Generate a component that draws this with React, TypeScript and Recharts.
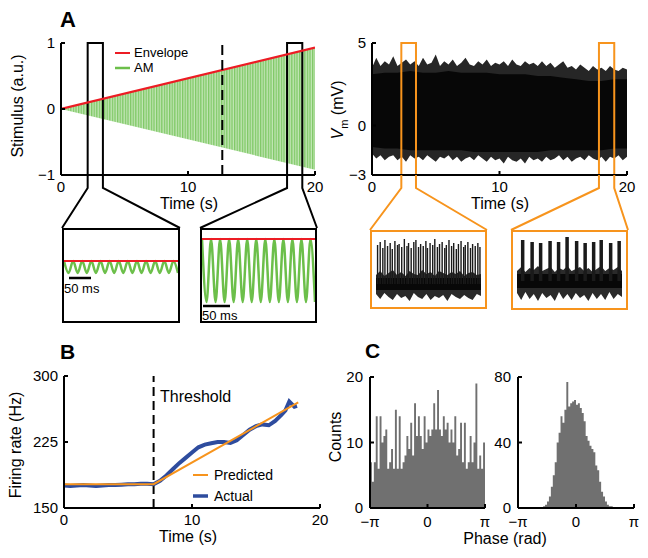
import React from 'react';
import {
  ComposedChart, LineChart, AreaChart, Line, Area, Bar, XAxis, YAxis,
  ReferenceLine, ReferenceArea, Legend,
} from 'recharts';

const W = 648;
const H = 558;
const YW = 50;
const XH = 30;
const FONT = '"Liberation Sans", Arial, Helvetica, sans-serif';

const RED = '#ec1c24';
const GREEN = '#6cbf4a';
const ORANGE = '#f7941d';
const BLUE = '#2e4c9e';
const GREY = '#707070';

// ---- A: stimulus ----
const stimTimes = [0, 20];
const envelope = [0, 0.93];
const amHigh = [0, 0.92];
const amLow = [0, -0.92];
const stimThreshold = 12.7;
const stimWindows = [[2.1, 3.3], [17.8, 19.0]];
const stimLegend = [
  { name: 'Envelope', color: RED },
  { name: 'AM', color: GREEN },
];

// zoomed stimulus insets
const waveEarly = [0.32, 0.055, 0.32, 0.055, 0.32, 0.055, 0.32, 0.055, 0.32, 0.055, 0.32, 0.055, 0.32,
  0.055, 0.32, 0.055, 0.32, 0.055, 0.32, 0.055, 0.32, 0.055, 0.32, 0.055, 0.32, 0.055];
const waveLate = [0.8, -0.58, 0.8, -0.58, 0.8, -0.58, 0.8, -0.58, 0.8, -0.58, 0.8, -0.58, 0.8,
  -0.58, 0.8, -0.58, 0.8, -0.58, 0.8, -0.58, 0.8, -0.58, 0.8, -0.58, 0.8, -0.58];
const envEarly = 0.32;
const envLate = 0.8;

// ---- A: membrane potential ----
const vmHi = [
  3.5, 4.1, 3.6, 3.9, 3.7, 4.2, 3.6, 3.8, 4.0, 3.7,
  3.9, 3.6, 4.1, 3.7, 3.8, 4.3, 3.6, 3.9, 3.7, 4.0,
  3.6, 3.8, 4.1, 3.7, 3.6, 3.9, 3.7, 4.0, 3.6, 3.8,
  3.7, 3.9, 3.6, 4.0, 3.7, 3.6, 3.9, 3.7, 3.8, 3.6,
  3.9, 3.6, 3.8, 3.5, 3.7, 3.9, 3.5, 3.6, 3.4, 3.7,
  3.5, 3.3, 3.6, 3.4, 3.5, 3.3, 3.6, 3.4, 3.3, 3.5, 3.4];
const vmLo = [
  -1.7, -2.0, -1.8, -2.1, -1.9, -1.8, -2.1, -1.9, -2.2, -1.8,
  -2.0, -1.9, -2.1, -1.8, -2.0, -2.2, -1.9, -2.0, -1.8, -2.1,
  -1.9, -2.2, -2.0, -1.9, -2.1, -1.8, -2.0, -2.2, -1.9, -2.1,
  -2.0, -2.3, -1.9, -2.1, -2.2, -2.0, -2.3, -1.9, -2.1, -2.0,
  -2.2, -1.9, -2.1, -2.0, -1.8, -2.1, -1.9, -2.2, -2.0, -1.9,
  -2.1, -1.8, -2.0, -2.1, -1.9, -2.2, -1.9, -2.0, -1.8, -2.1, -1.9];
const vmCoreHi = [3.1, 3.2, 3.2, 3.3, 3.2, 3.2, 3.3, 3.2, 3.2, 3.2, 3.1, 3.1, 3.1, 3.0, 3.0, 2.9, 2.8, 2.7, 2.7, 2.8, 2.8];
const vmCoreLo = [-1.3, -1.4, -1.4, -1.5, -1.5, -1.5, -1.5, -1.5, -1.6, -1.6, -1.6, -1.6, -1.6, -1.6, -1.5, -1.5, -1.5, -1.5, -1.5, -1.4, -1.4];
const vmWindows = [[2.3, 3.45], [17.8, 19.0]];

// zoomed spike insets
const noisePos = [0, 4, 8, 12, 16, 20, 24, 28, 32, 36, 40, 44, 48, 52, 56, 60, 64, 68, 72, 76, 80, 84, 88, 92, 96, 100];
const noiseEarlyHi = [0.9, 1.3, 0.8, 1.1, 1.4, 0.9, 1.2, 0.8, 1.3, 1.0, 0.9, 1.4, 1.0, 1.2, 0.8, 1.3, 1.1, 0.9, 1.2, 1.0, 1.3, 0.8, 1.1, 1.2, 0.9, 1.0];
const noiseEarlyLo = [-1.0, -1.5, -0.9, -1.3, -1.6, -1.0, -1.4, -1.2, -1.7, -0.9, -1.3, -1.5, -1.0, -1.6, -1.2, -1.4, -1.1, -1.7, -1.0, -1.3, -1.5, -1.1, -1.4, -1.6, -1.0, -1.2];
const noiseLateHi = [1.0, 1.4, 0.9, 1.3, 1.1, 1.5, 1.0, 1.2, 1.4, 0.9, 1.3, 1.1, 1.5, 1.0, 1.2, 1.4, 1.0, 1.3, 0.9, 1.2, 1.5, 1.0, 1.3, 1.1, 1.4, 1.0];
const noiseLateLo = [-1.2, -1.9, -1.1, -1.8, -1.3, -2.0, -1.2, -1.7, -1.4, -2.0, -1.1, -1.8, -1.3, -1.9, -1.2, -1.7, -1.4, -2.0, -1.2, -1.8, -1.3, -1.9, -1.1, -1.8, -1.3, -1.6];
const spikesEarlyPos = [1.5, 4, 6.5, 8.5, 11, 13.5, 15.5, 18, 20.5, 22, 24.5, 27, 29.5, 31, 33.5, 36, 38, 40.5, 42.5, 45, 47.5, 49,
  51.5, 54, 56, 58.5, 60.5, 63, 65.5, 67, 69.5, 72, 74, 76.5, 78.5, 81, 83.5, 85, 87.5, 90, 92, 94.5, 97, 99];
const spikesEarlyPeak = [3.9, 4.2, 3.6, 4.4, 3.8, 4.1, 3.5, 4.3, 3.9, 4.0, 3.7, 4.5, 3.8, 4.1, 3.6, 4.2, 4.4, 3.7, 4.0, 3.8, 4.3, 3.6,
  4.1, 3.9, 4.5, 3.7, 4.0, 4.2, 3.6, 3.9, 4.4, 3.8, 4.1, 3.5, 4.0, 4.3, 3.7, 3.9, 4.2, 3.6, 4.0, 3.8, 4.1, 3.7];
const burstsLatePos = [5.4, 14.4, 22.5, 31.5, 39.6, 47.7, 56.8, 64.9, 73, 80.2, 89.2, 97.3];
const burstsLatePeak = [4.1, 3.9, 3.8, 4.0, 3.9, 4.4, 4.0, 3.8, 3.9, 4.1, 3.8, 4.0];

// ---- B: firing rate ----
const rateTimes = [0, 0.5, 1, 1.5, 2, 2.5, 3, 3.5, 4, 4.5, 5, 5.5, 6, 6.5, 7, 7.5, 8, 8.5, 9, 9.5,
  10, 10.5, 11, 11.5, 12, 12.5, 13, 13.5, 14, 14.5, 15, 15.5, 16, 16.5, 17, 17.3, 17.6, 17.8, 18, 18.2];
const rateActual = [175.5, 175, 175.5, 176, 175.5, 175, 175.5, 176, 176, 176.5, 177, 177, 177.5, 177.5, 177, 181, 187, 194, 201, 207,
  213, 219, 222, 223.5, 225, 225, 224, 227, 233, 239, 243, 245, 244, 249, 256, 261, 271, 268, 265, 266];
const predTimes = [0, 7, 18.3];
const predRate = [177, 177, 270];
const rateThreshold = 7;
const rateLegend = [
  { name: 'Predicted', color: ORANGE },
  { name: 'Actual', color: BLUE },
];

// ---- C: phase histograms ----
const phaseWeak = [7, 4, 7, 14, 6, 14, 10, 11, 12, 6, 7, 9, 6, 15, 6, 14, 6, 7, 8, 11,
  9, 13, 8, 16, 11, 14, 11, 9, 14, 10, 12, 11, 12, 16, 12, 18, 12, 11, 14, 12,
  13, 10, 12, 10, 14, 8, 9, 13, 7, 13, 6, 7, 11, 7, 10, 19, 6, 8, 6, 10];
const phaseStrong = [0, 0, 0, 0, 0, 0, 0, 0, 0, 0, 0, 0, 0, 1, 2, 4, 7, 13, 20, 28,
  40, 46, 56, 52, 60, 77, 62, 64, 65, 66, 63, 64, 61, 58, 53, 44, 41, 38, 36, 34,
  26, 23, 16, 10, 7, 4, 2, 1, 1, 0, 0, 0, 0, 0, 0, 0, 0, 0, 0, 0];

// ---- layout ----
type Box = [number, number, number, number];
const boxStim: Box = [61, 43, 315, 175];
const boxVm: Box = [372, 43, 627, 175];
const boxRate: Box = [64, 376, 320, 508];
const boxPhaseL: Box = [370, 377, 485, 508];
const boxPhaseR: Box = [518, 377, 634, 508];
const stimInsets: Box[] = [[62, 228, 180, 323], [200, 228, 317, 323]];
const vmInsets: Box[] = [[370, 230, 487, 309], [511, 230, 628, 310]];

const marginFor = (b: Box) => ({ top: b[1], left: b[0] - YW, right: W - b[2], bottom: H - b[3] - XH });
const toPx = (b: Box, d: number[], v: number) => b[0] + ((v - d[0]) / (d[1] - d[0])) * (b[2] - b[0]);
const minus = (v: number) => (v < 0 ? '\u2212' + Math.abs(v) : String(v));
const piFmt = (v: number) => (v < -1 ? '\u2212\u03c0' : v > 1 ? '\u03c0' : '0');

const axisStroke = { stroke: '#000', strokeWidth: 2 };
const tickFont = { fill: '#000', fontSize: 15 };

function xAxis(key: string, domain: number[], ticks: number[], fmt?: (v: number) => string, margin = 10) {
  return (
    <XAxis type="number" dataKey={key} domain={domain} ticks={ticks} interval={0} allowDataOverflow
      axisLine={axisStroke} tickLine={axisStroke} tickSize={-4} tickMargin={margin} tick={tickFont}
      height={XH} tickFormatter={fmt} />
  );
}
function yAxis(domain: number[], ticks: number[], fmt?: (v: number) => string, margin = 10) {
  return (
    <YAxis type="number" domain={domain} ticks={ticks} interval={0} allowDataOverflow
      axisLine={axisStroke} tickLine={axisStroke} tickSize={-4} tickMargin={margin} tick={tickFont}
      width={YW} tickFormatter={fmt} />
  );
}

// bar drawn with a fixed pixel width, centred on its data position
const fixedBar = (w: number, fill: string) => (props: any) => {
  const { x, y, width, height } = props;
  if (!height || height <= 0) return <g />;
  return <rect x={x + width / 2 - w / 2} y={y} width={w} height={height} fill={fill} />;
};

// histogram outline rows: one row per bin edge, last bin repeated at the right edge
const histRows = (counts: number[]) => {
  const step = (2 * Math.PI) / counts.length;
  return [...counts, counts[counts.length - 1]].map((c, i) => ({ ph: -Math.PI + i * step, c }));
};

function LegendBox({ items, rowH, fontSize, lineLen, gap, widths }: any) {
  return (
    <div style={{ fontFamily: FONT, fontSize, color: '#000' }}>
      {items.map((it: any, i: number) => (
        <div key={it.name} style={{ display: 'flex', alignItems: 'center', height: rowH }}>
          <svg width={lineLen} height={6} style={{ marginRight: gap }}>
            <line x1={0} x2={lineLen} y1={3} y2={3} stroke={it.color} strokeWidth={widths[i]} />
          </svg>
          <span>{it.name}</span>
        </div>
      ))}
    </div>
  );
}

function Txt({ x, y, size = 16, rotate = false, center = true, bold = false, children }: any) {
  const tx = center ? '-50%' : '0';
  return (
    <div style={{
      position: 'absolute', left: x, top: y, fontSize: size, lineHeight: 1, whiteSpace: 'nowrap',
      fontWeight: bold ? 'bold' : 'normal', color: '#000',
      transform: `translate(${tx}, -50%)${rotate ? ' rotate(-90deg)' : ''}`,
    }}>{children}</div>
  );
}

function WaveInset({ box, wave, level }: { box: Box; wave: number[]; level: number }) {
  const rows = wave.map((y, i) => ({ i, y, env: level }));
  return (
    <div style={{ position: 'absolute', left: box[0], top: box[1], width: box[2] - box[0], height: box[3] - box[1], border: '2px solid #000', boxSizing: 'border-box' }}>
      <LineChart width={box[2] - box[0] - 4} height={box[3] - box[1] - 4} data={rows} margin={{ top: 0, right: 0, bottom: 0, left: 0 }}>
        <XAxis type="number" dataKey="i" domain={[0, wave.length - 1]} hide />
        <YAxis type="number" domain={[-1, 1]} hide />
        <Line type="monotone" dataKey="y" stroke={GREEN} strokeWidth={2.5} dot={false} isAnimationActive={false} />
        <Line type="linear" dataKey="env" stroke={RED} strokeWidth={2} dot={false} isAnimationActive={false} />
      </LineChart>
    </div>
  );
}

function SpikeInset({ box, domain, hi, lo, core, pos, peak, barW }: any) {
  const spikes = pos.map((p: number, i: number) => ({ p, s: [0, peak[i]] }));
  const fringe = noisePos.map((p, i) => ({ p, r: [lo[i], hi[i]] }));
  const inner = [{ p: 0, r: [-core, core] }, { p: 100, r: [-core, core] }];
  return (
    <div style={{ position: 'absolute', left: box[0], top: box[1], width: box[2] - box[0], height: box[3] - box[1], border: `2px solid ${ORANGE}`, boxSizing: 'border-box' }}>
      <ComposedChart width={box[2] - box[0] - 4} height={box[3] - box[1] - 4} data={spikes} margin={{ top: 0, right: 4, bottom: 0, left: 4 }}>
        <XAxis type="number" dataKey="p" domain={[0, 100]} hide />
        <YAxis type="number" domain={domain} hide />
        <Area data={fringe} dataKey="r" type="linear" fill="#2a2a2a" fillOpacity={1} stroke="none" isAnimationActive={false} />
        <Area data={inner} dataKey="r" type="linear" fill="#080808" fillOpacity={1} stroke="none" isAnimationActive={false} />
        <Bar dataKey="s" fill="#1a1a1a" shape={fixedBar(barW, '#1a1a1a')} isAnimationActive={false} />
      </ComposedChart>
    </div>
  );
}

export default function App() {
  const stimRows = stimTimes.map((t, i) => ({ t, env: envelope[i], am: [amLow[i], amHigh[i]] }));
  const vmRows = vmHi.map((h, i) => ({ t: (i * 20) / (vmHi.length - 1), r: [vmLo[i], h] }));
  const vmCoreRows = vmCoreHi.map((h, i) => ({ t: i, r: [vmCoreLo[i], h] }));
  const actualRows = rateTimes.map((t, i) => ({ t, rate: rateActual[i] }));
  const predRows = predTimes.map((t, i) => ({ t, rate: predRate[i] }));
  const weakRows = histRows(phaseWeak);
  const strongRows = histRows(phaseStrong);
  const piDomain = [-Math.PI, Math.PI];
  const piTicks = [-Math.PI, 0, Math.PI];

  const connectors = (b: Box, d: number[], wins: number[][], insets: Box[]) =>
    wins.flatMap(([a, c], k) => {
      const xa = toPx(b, d, a);
      const xc = toPx(b, d, c);
      const ins = insets[k];
      return [
        `${xa},${b[3]} ${xa},${b[3] + 13} ${ins[0]},${ins[1]}`,
        `${xc},${b[3]} ${xc},${b[3] + 13} ${ins[2]},${ins[1]}`,
      ];
    });

  return (
    <div style={{ position: 'absolute', left: 0, top: 0, width: W, height: H, background: '#fff', fontFamily: FONT, overflow: 'hidden' }}>
      {/* A: stimulus */}
      <div style={{ position: 'absolute', left: 0, top: 0 }}>
        <ComposedChart width={W} height={H} data={stimRows} margin={marginFor(boxStim)}>
          <defs>
            <pattern id="amStripes" width="2.6" height="4" patternUnits="userSpaceOnUse">
              <rect width="2.6" height="4" fill="#c2e6b5" />
              <rect width="1.3" height="4" fill="#7fc866" />
            </pattern>
          </defs>
          {xAxis('t', [0, 20], [0, 10, 20])}
          {yAxis([-1, 1], [-1, 0, 1], minus)}
          <Area type="linear" dataKey="am" fill="url(#amStripes)" fillOpacity={1} stroke="none" isAnimationActive={false} />
          <Line type="linear" dataKey="env" stroke={RED} strokeWidth={2.2} dot={false} isAnimationActive={false} />
          <ReferenceLine x={stimThreshold} stroke="#000" strokeWidth={2} strokeDasharray="10 5" />
          {stimWindows.map(([a, c]) => (
            <ReferenceArea key={a} x1={a} x2={c} y1={-1} y2={1} fill="none" fillOpacity={0} stroke="#000" strokeWidth={2} />
          ))}
          <Legend layout="vertical" align="center" verticalAlign="middle"
            wrapperStyle={{ left: 115, top: 45, width: 'auto', height: 'auto' }}
            content={() => <LegendBox items={stimLegend} rowH={15} fontSize={13} lineLen={15} gap={4} widths={[2, 2.5]} />} />
        </ComposedChart>
      </div>

      {/* A: membrane potential */}
      <div style={{ position: 'absolute', left: 0, top: 0 }}>
        <ComposedChart width={W} height={H} margin={marginFor(boxVm)}>
          {xAxis('t', [0, 20], [0, 10, 20])}
          {yAxis([-3, 5], [-3, 0, 5], minus)}
          <Area data={vmRows} dataKey="r" type="linear" fill="#262626" fillOpacity={1} stroke="none" isAnimationActive={false} />
          <Area data={vmCoreRows} dataKey="r" type="linear" fill="#070707" fillOpacity={1} stroke="none" isAnimationActive={false} />
          {vmWindows.map(([a, c]) => (
            <ReferenceArea key={a} x1={a} x2={c} y1={-3} y2={5} fill="none" fillOpacity={0} stroke={ORANGE} strokeWidth={2} />
          ))}
        </ComposedChart>
      </div>

      {/* B: firing rate */}
      <div style={{ position: 'absolute', left: 0, top: 0 }}>
        <ComposedChart width={W} height={H} margin={marginFor(boxRate)}>
          {xAxis('t', [0, 20], [0, 10, 20])}
          {yAxis([150, 300], [150, 225, 300])}
          <ReferenceLine x={rateThreshold} stroke="#000" strokeWidth={2} strokeDasharray="9 5" />
          <Line data={actualRows} dataKey="rate" type="linear" stroke={BLUE} strokeWidth={4} dot={false} isAnimationActive={false} />
          <Line data={predRows} dataKey="rate" type="linear" stroke={ORANGE} strokeWidth={2} dot={false} isAnimationActive={false} />
          <Legend layout="vertical" align="center" verticalAlign="middle"
            wrapperStyle={{ left: 193, top: 464, width: 'auto', height: 'auto' }}
            content={() => <LegendBox items={rateLegend} rowH={21} fontSize={14} lineLen={15} gap={6} widths={[2, 3.5]} />} />
        </ComposedChart>
      </div>

      {/* C: phase histograms */}
      <div style={{ position: 'absolute', left: 0, top: 0 }}>
        <AreaChart width={W} height={H} data={weakRows} margin={marginFor(boxPhaseL)}>
          {xAxis('ph', piDomain, piTicks, piFmt, 12)}
          {yAxis([0, 20], [0, 10, 20], undefined, 11)}
          <Area dataKey="c" type="stepAfter" fill={GREY} fillOpacity={1} stroke="none" isAnimationActive={false} />
        </AreaChart>
      </div>
      <div style={{ position: 'absolute', left: 0, top: 0 }}>
        <AreaChart width={W} height={H} data={strongRows} margin={marginFor(boxPhaseR)}>
          {xAxis('ph', piDomain, piTicks, piFmt, 12)}
          {yAxis([0, 80], [0, 40, 80], undefined, 11)}
          <Area dataKey="c" type="stepAfter" fill={GREY} fillOpacity={1} stroke="none" isAnimationActive={false} />
        </AreaChart>
      </div>

      {/* insets */}
      <WaveInset box={stimInsets[0]} wave={waveEarly} level={envEarly} />
      <WaveInset box={stimInsets[1]} wave={waveLate} level={envLate} />
      <SpikeInset box={vmInsets[0]} domain={[-2.3, 5.2]} hi={noiseEarlyHi} lo={noiseEarlyLo} core={0.6}
        pos={spikesEarlyPos} peak={spikesEarlyPeak} barW={1.4} />
      <SpikeInset box={vmInsets[1]} domain={[-2.7, 4.9]} hi={noiseLateHi} lo={noiseLateLo} core={0.7}
        pos={burstsLatePos} peak={burstsLatePeak} barW={3.5} />

      {/* zoom connectors and scale bars */}
      <svg width={W} height={H} style={{ position: 'absolute', left: 0, top: 0, pointerEvents: 'none' }}>
        {connectors(boxStim, [0, 20], stimWindows, stimInsets).map((p) => (
          <polyline key={p} points={p} fill="none" stroke="#000" strokeWidth={2} />
        ))}
        {connectors(boxVm, [0, 20], vmWindows, vmInsets).map((p) => (
          <polyline key={p} points={p} fill="none" stroke={ORANGE} strokeWidth={2} />
        ))}
        <line x1={69} x2={91} y1={278} y2={278} stroke="#000" strokeWidth={2.5} />
        <line x1={203} x2={230} y1={306} y2={306} stroke="#000" strokeWidth={2.5} />
      </svg>

      {/* text */}
      <Txt x={60} y={20} size={22} bold center={false}>A</Txt>
      <Txt x={60} y={351} size={21} bold center={false}>B</Txt>
      <Txt x={365} y={350} size={21} bold center={false}>C</Txt>
      <Txt x={18} y={106} rotate>Stimulus (a.u.)</Txt>
      <Txt x={189} y={204}>Time (s)</Txt>
      <Txt x={340} y={110} rotate><i>V</i><sub style={{ fontSize: 11 }}>m</sub> (mV)</Txt>
      <Txt x={500} y={204}>Time (s)</Txt>
      <Txt x={64} y={288} size={13} center={false}>50 ms</Txt>
      <Txt x={202} y={315} size={13} center={false}>50 ms</Txt>
      <Txt x={16} y={445} rotate>Firing rate (Hz)</Txt>
      <Txt x={188} y={537}>Time (s)</Txt>
      <Txt x={160} y={397} center={false}>Threshold</Txt>
      <Txt x={336} y={437} rotate>Counts</Txt>
      <Txt x={505} y={539}>Phase (rad)</Txt>
    </div>
  );
}
